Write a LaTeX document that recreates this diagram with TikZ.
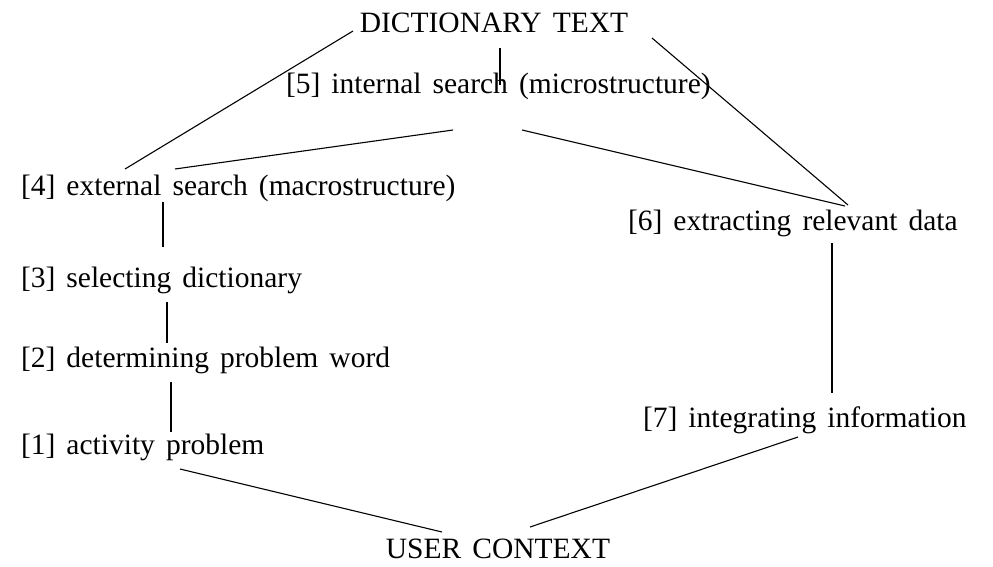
\documentclass[tikz,border=0pt]{standalone}
\usepackage{fontspec}
\setmainfont{Liberation Serif}[WordSpace=1.5]
\begin{document}
\begin{tikzpicture}[x=1pt,y=-1pt,
  lbl/.style={inner sep=0pt,outer sep=0pt,font=\fontsize{29.5}{34}\selectfont},
  conn/.style={line width=1.1pt,black}]
\useasboundingbox (0,0) rectangle (993,566);
% nodes
\node[lbl,anchor=base] (dict) at (494,32) {DICTIONARY TEXT};
\node[lbl,anchor=base west] (p5) at (286,93) {[5] internal search (microstructure)};
\node[lbl,anchor=base west] (p4) at (21,195) {[4] external search (macrostructure)};
\node[lbl,anchor=base west] (p3) at (21,287) {[3] selecting dictionary};
\node[lbl,anchor=base west] (p2) at (21,367) {[2] determining problem word};
\node[lbl,anchor=base west] (p1) at (21,454) {[1] activity problem};
\node[lbl,anchor=base west] (p6) at (628,230) {[6] extracting relevant data};
\node[lbl,anchor=base west] (p7) at (643,427) {[7] integrating information};
\node[lbl,anchor=base] (user) at (498,558) {USER CONTEXT};
% connector end points, placed relative to their nodes
\path (dict.base) ++(-141,-1) coordinate (d1) (dict.base) ++(6,16) coordinate (d2) (dict.base) ++(158,6) coordinate (d3);
\path (p5.base west) ++(214,-8) coordinate (p5t) (p5.base west) ++(167,37) coordinate (p5l) (p5.base west) ++(236,37) coordinate (p5r);
\path (p4.base west) ++(104,-26) coordinate (p4a) (p4.base west) ++(154,-26) coordinate (p4b) (p4.base west) ++(142,7) coordinate (p4c);
\path (p3.base west) ++(142,-40) coordinate (p3a) (p3.base west) ++(146,15) coordinate (p3b);
\path (p2.base west) ++(146,-24) coordinate (p2a) (p2.base west) ++(150,15) coordinate (p2b);
\path (p1.base west) ++(150,-22) coordinate (p1a) (p1.base west) ++(159,15) coordinate (p1b);
\path (p6.base west) ++(220,-25) coordinate (p6a) (p6.base west) ++(217,-24) coordinate (p6b) (p6.base west) ++(204,13) coordinate (p6c);
\path (p7.base west) ++(189,-34) coordinate (p7a) (p7.base west) ++(155,10) coordinate (p7b);
\path (user.base) ++(-56,-26) coordinate (ua) (user.base) ++(32,-31) coordinate (ub);
% connectors
\draw[conn] (d1) -- (p4a);
\draw[conn] (d2) -- (p5t);
\draw[conn] (d3) -- (p6a);
\draw[conn] (p5l) -- (p4b);
\draw[conn] (p5r) -- (p6b);
\draw[conn] (p4c) -- (p3a);
\draw[conn] (p3b) -- (p2a);
\draw[conn] (p2b) -- (p1a);
\draw[conn] (p6c) -- (p7a);
\draw[conn] (p1b) -- (ua);
\draw[conn] (p7b) -- (ub);
\end{tikzpicture}
\end{document}
